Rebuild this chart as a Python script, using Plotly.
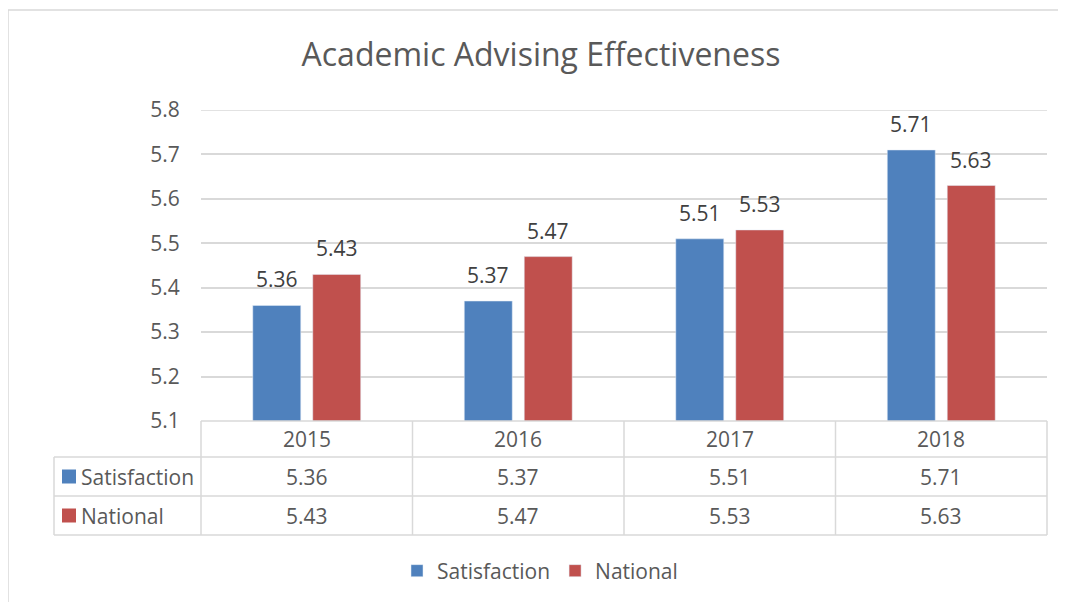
import plotly.graph_objects as go

categories = ["2015", "2016", "2017", "2018"]
satisfaction = [5.36, 5.37, 5.51, 5.71]
national = [5.43, 5.47, 5.53, 5.63]
series_names = ["Satisfaction", "National"]
y_ticks = [5.1, 5.2, 5.3, 5.4, 5.5, 5.6, 5.7, 5.8]
colors = ["#4F81BD", "#C0504D"]

OFF = 8  # page body margin offset
W, H = 1066 - OFF, 602 - OFF
L, R, T, B = 201 - OFF, 1047 - OFF, 110 - OFF, 421 - OFF
FONT = "Open Sans"
TXT = "#595959"
FS = 21

def px(xp):
    return (xp - OFF - L) / (R - L)

def py(yp):
    return (B - (yp - OFF)) / (B - T)

xi = list(range(len(categories)))
bar_shift = [-30, 30]

fig = go.Figure()
annotations = []
for k, (name, vals, col) in enumerate(zip(series_names, [satisfaction, national], colors)):
    fig.add_trace(go.Bar(x=xi, y=vals, name=name, marker_color=col))
    for i, v in enumerate(vals):
        annotations.append(dict(x=i, xref="x", y=v, yref="y", xshift=bar_shift[k], yshift=10,
                                xanchor="center", yanchor="bottom", text=f"{v:.2f}", showarrow=False,
                                font=dict(family=FONT, size=FS, color="#404040")))

shapes = []
line = dict(color="#D9D9D9", width=1.5)
# chart border
shapes.append(dict(type="line", xref="paper", yref="paper", x0=px(8), x1=px(1090), y0=py(10), y1=py(10), line=line))
shapes.append(dict(type="line", xref="paper", yref="paper", x0=px(8), x1=px(8), y0=py(10), y1=py(640), line=line))
# top gridline (5.8)
shapes.append(dict(type="line", xref="paper", yref="y", x0=0, x1=1, y0=y_ticks[-1], y1=y_ticks[-1], line=line))
# table
row_y = [421, 457, 496, 535]
col_x = [201 + i * (1047 - 201) / len(categories) for i in range(len(categories) + 1)]
for x in col_x:
    shapes.append(dict(type="line", xref="paper", yref="paper", x0=px(x), x1=px(x), y0=py(421), y1=py(535), line=line))
shapes.append(dict(type="line", xref="paper", yref="paper", x0=px(54), x1=px(54), y0=py(457), y1=py(535), line=line))
for i, yv in enumerate(row_y):
    x0 = 201 if i == 0 else 54
    shapes.append(dict(type="line", xref="paper", yref="paper", x0=px(x0), x1=px(1047), y0=py(yv), y1=py(yv), line=line))

for i, c in enumerate(categories):
    annotations.append(dict(x=i, xref="x", y=py(439), yref="paper", yanchor="middle", xanchor="center", text=c,
                            showarrow=False, font=dict(family=FONT, size=FS, color=TXT)))
for r, (name, vals, col) in enumerate(zip(series_names, [satisfaction, national], colors)):
    yc = (row_y[r + 1] + row_y[r + 2]) / 2
    annotations.append(dict(x=px(79), xref="paper", y=py(yc), yref="paper", yanchor="middle", text=name,
                            showarrow=False, xanchor="left", font=dict(family=FONT, size=FS, color=TXT)))
    shapes.append(dict(type="rect", xref="paper", yref="paper", x0=px(62), x1=px(76),
                       y0=py(yc - 7), y1=py(yc + 7), fillcolor=col, line=dict(width=0)))
    for i, v in enumerate(vals):
        annotations.append(dict(x=i, xref="x", y=py(yc), yref="paper", yanchor="middle", xanchor="center",
                                text=f"{v:.2f}", showarrow=False, font=dict(family=FONT, size=FS, color=TXT)))

fig.update_layout(
    width=W, height=H,
    margin=dict(l=L, r=W - R, t=T, b=H - B, autoexpand=False),
    paper_bgcolor="white", plot_bgcolor="white",
    title=dict(text="Academic Advising Effectiveness", x=(541 - OFF) / W, xanchor="center",
               y=1 - (55 - OFF) / H, yanchor="middle",
               font=dict(family=FONT, size=32, color=TXT)),
    barmode="group", bargap=0.433, bargroupgap=0.2,
    xaxis=dict(range=[-0.5, len(categories) - 0.5], showticklabels=False, showgrid=False,
               zeroline=False, showline=False),
    yaxis=dict(range=[5.1, 5.8], tickvals=y_ticks, ticktext=[f"{v:.1f}" for v in y_ticks],
               showgrid=True, gridcolor="#D9D9D9", gridwidth=1.5, zeroline=False, showline=False,
               ticks="outside", ticklen=16, tickcolor="rgba(0,0,0,0)", automargin=False,
               tickfont=dict(family=FONT, size=FS, color=TXT)),
    legend=dict(orientation="h", x=px(540), xanchor="center", y=py(571), yanchor="middle",
                font=dict(family=FONT, size=FS, color=TXT)),
    shapes=shapes, annotations=annotations,
)

fig.write_html("out.html")
